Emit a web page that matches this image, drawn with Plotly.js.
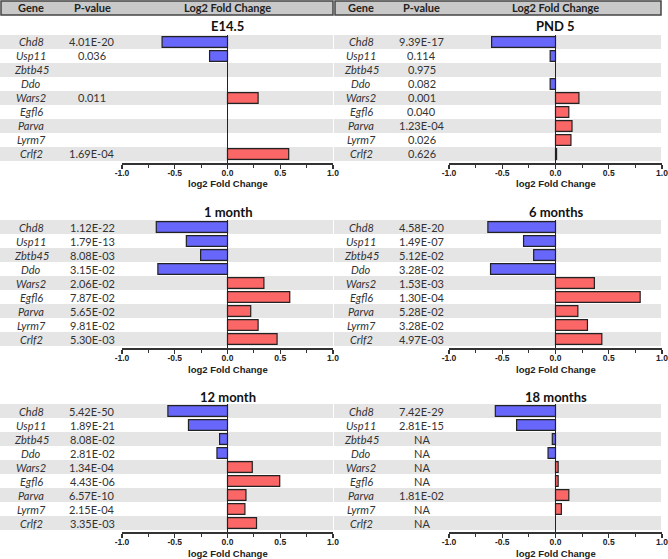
<!DOCTYPE html>
<html>
<head>
<meta charset="utf-8">
<script src="https://cdn.plot.ly/plotly-3.0.1.min.js"></script>
<style>html,body{margin:0;padding:0;background:#fff}#chart{width:668px;height:559px}</style>
</head>
<body>
<div id="chart"></div>
<script>
// ---- data ----
const genes = ['Chd8','Usp11','Zbtb45','Ddo','Wars2','Egfl6','Parva','Lyrm7','Crlf2'];
const panelTitles = ['E14.5','PND 5','1 month','6 months','12 month','18 months'];
const tickVals = [-1, -0.5, 0, 0.5, 1];
const tickLabels = ['-1.0','-0.5','0.0','0.5','1.0'];
const minorTickVals = [-0.75, -0.25, 0.25, 0.75];

const fcE145 = [-0.62, -0.17, null, null, 0.29, null, null, null, 0.58];
const pE145  = ['4.01E-20','0.036','','','0.011','','','','1.69E-04'];

const fcPND5 = [-0.60, -0.05, null, -0.05, 0.22, 0.125, 0.155, 0.145, 0.01];
const pPND5  = ['9.39E-17','0.114','0.975','0.082','0.001','0.040','1.23E-04','0.026','0.626'];

const fc1m = [-0.675, -0.39, -0.255, -0.66, 0.345, 0.59, 0.22, 0.29, 0.47];
const p1m  = ['1.12E-22','1.79E-13','8.08E-03','3.15E-02','2.06E-02','7.87E-02','5.65E-02','9.81E-02','5.30E-03'];

const fc6m = [-0.635, -0.30, -0.205, -0.61, 0.365, 0.795, 0.21, 0.30, 0.435];
const p6m  = ['4.58E-20','1.49E-07','5.12E-02','3.28E-02','1.53E-03','1.30E-04','5.28E-02','3.28E-02','4.97E-03'];

const fc12m = [-0.565, -0.37, -0.075, -0.10, 0.235, 0.495, 0.175, 0.165, 0.275];
const p12m  = ['5.42E-50','1.89E-21','8.08E-02','2.81E-02','1.34E-04','4.43E-06','6.57E-10','2.15E-04','3.35E-03'];

const fc18m = [-0.565, -0.365, -0.03, -0.07, 0.025, 0.025, 0.125, 0.055, null];
const p18m  = ['7.42E-29','2.81E-15','NA','NA','NA','NA','1.81E-02','NA','NA'];

const foldChanges = [fcE145, fcPND5, fc1m, fc6m, fc12m, fc18m];
const pValues = [pE145, pPND5, p1m, p6m, p12m, p18m];

// ---- layout geometry (px) ----
const W = 668, H = 559;
const px = v => v / W;
const py = v => 1 - v / H;
const colX = [
  {axis:[122,333], band:[0,333], gene:31, p:92, head:[1,333]},
  {axis:[449,662], band:[334,661], gene:361, p:421.5, head:[335,661]}
];
const rowY = [[35,163],[220,348],[404,532]];
const titleY = [26, 212, 396.5];

const BLUE = '#6767fb', RED = '#fb6767', BAND = '#e5e5e5';
const textFont = 'Lato, "Open Sans", sans-serif';
const arialFont = 'Arial, "Liberation Sans", sans-serif';

const traces = [];
const shapes = [];
const annotations = [];
const layout = {
  width: W, height: H,
  margin: {l:0, r:0, t:0, b:0},
  paper_bgcolor: '#ffffff',
  plot_bgcolor: 'rgba(0,0,0,0)',
  showlegend: false
};

const yIdx = genes.map((g, i) => i);

for (let k = 0; k < 6; k++) {
  const c = colX[k % 2];
  const rIdx = Math.floor(k / 2);
  const r = rowY[rIdx];
  const n = k + 1;
  const xa = 'x' + (n === 1 ? '' : n);
  const ya = 'y' + (n === 1 ? '' : n);
  const xKey = 'xaxis' + (n === 1 ? '' : n);
  const yKey = 'yaxis' + (n === 1 ? '' : n);
  const fc = foldChanges[k];

  traces.push({
    type: 'bar', orientation: 'h',
    x: fc, y: yIdx,
    xaxis: xa, yaxis: ya,
    width: 0.78,
    marker: {
      color: fc.map(v => (v !== null && v < 0) ? BLUE : RED),
      line: {color: '#222', width: 1.2}
    },
    hoverinfo: 'skip'
  });

  layout[xKey] = {
    domain: [px(c.axis[0]), px(c.axis[1])],
    anchor: ya,
    range: [-1, 1],
    tickmode: 'array', tickvals: tickVals, ticktext: tickLabels,
    ticks: 'outside', ticklen: 4, tickwidth: 1.2, tickcolor: '#333',
    minor: {tickmode: 'array', tickvals: minorTickVals, ticks: 'outside', ticklen: 3, tickwidth: 1, tickcolor: '#333'},
    showline: true, linecolor: '#333', linewidth: 1.5,
    showgrid: false,
    zeroline: true, zerolinecolor: '#222', zerolinewidth: 1.5,
    ticklabeloverflow: 'allow',
    ticklabelstandoff: -3,
    tickfont: {family: arialFont, size: 8.5, color: '#222', weight: 'bold'},
    fixedrange: true
  };
  layout[yKey] = {
    domain: [py(r[1]), py(r[0])],
    anchor: xa,
    range: [8.643, -0.5],
    visible: false,
    fixedrange: true
  };

  // alternating grey row bands
  for (let i = 0; i < genes.length; i += 2) {
    shapes.push({
      type: 'rect', layer: 'below',
      xref: 'paper', yref: ya,
      x0: px(c.band[0]), x1: px(c.band[1]),
      y0: i - 0.5, y1: i + 0.5,
      fillcolor: BAND, line: {width: 0}
    });
  }

  // gene names & p-values
  genes.forEach((g, i) => {
    annotations.push({
      xref: 'paper', yref: ya, x: px(c.gene), y: i,
      text: g, showarrow: false, xanchor: 'center', yanchor: 'middle',
      font: {family: textFont, size: 11, color: '#333', style: 'italic'}
    });
    annotations.push({
      xref: 'paper', yref: ya, x: px(c.p), y: i,
      text: pValues[k][i], showarrow: false, xanchor: 'center', yanchor: 'middle',
      font: {family: textFont, size: 11, color: '#333'}
    });
  });

  // panel title
  annotations.push({
    xref: xa, yref: 'paper', x: 0, y: py(titleY[rIdx]),
    text: panelTitles[k], showarrow: false, xanchor: 'center', yanchor: 'middle',
    font: {family: textFont, size: 13, color: '#111', weight: 'bold'}
  });

  // x-axis title
  annotations.push({
    xref: xa, yref: 'paper', x: 0, y: py(r[1] + 21),
    text: 'log2 Fold Change', showarrow: false, xanchor: 'center', yanchor: 'middle',
    font: {family: arialFont, size: 9.5, color: '#222', weight: 'bold'}
  });

  // header row (top panels only)
  if (k < 2) {
    shapes.push({
      type: 'rect', layer: 'below', xref: 'paper', yref: 'paper',
      x0: px(c.head[0]), x1: px(c.head[1]), y0: py(15), y1: py(1),
      fillcolor: '#c9c9c9', line: {color: '#444', width: 1.5}
    });
    const headFont = {family: textFont, size: 11, color: '#222', weight: 'bold'};
    annotations.push({xref: 'paper', yref: 'paper', x: px(c.gene), y: py(8), text: 'Gene', showarrow: false, xanchor: 'center', yanchor: 'middle', font: headFont});
    annotations.push({xref: 'paper', yref: 'paper', x: px(c.p), y: py(8), text: 'P-value', showarrow: false, xanchor: 'center', yanchor: 'middle', font: headFont});
    annotations.push({xref: xa, yref: 'paper', x: 0, y: py(8), text: 'Log2 Fold Change', showarrow: false, xanchor: 'center', yanchor: 'middle', font: headFont});
  }
}

layout.shapes = shapes;
layout.annotations = annotations;

Plotly.newPlot('chart', traces, layout, {displayModeBar: false, staticPlot: true});
</script>
</body>
</html>
